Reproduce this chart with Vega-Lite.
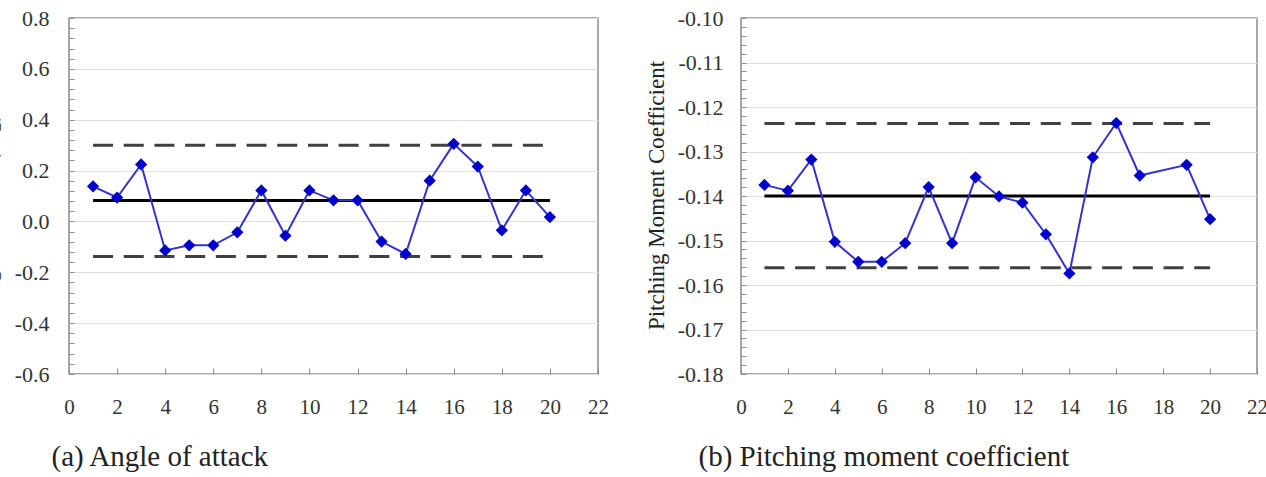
{
  "$schema": "https://vega.github.io/schema/vega-lite/v6.json",
  "background": "white",
  "padding": {"left": -24, "top": 6, "right": 0, "bottom": 0},
  "bounds": "flush",
  "spacing": 143,
  "config": {
    "font": "Liberation Serif",
    "view": {"stroke": "#8c8c8c", "strokeWidth": 1.5},
    "axis": {
      "domain": false,
      "labelFont": "Liberation Serif",
      "labelFontSize": 21,
      "labelColor": "#333333",
      "titleFont": "Liberation Serif",
      "titleFontWeight": "normal",
      "titleColor": "#222222",
      "tickColor": "#8c8c8c",
      "tickWidth": 1,
      "gridColor": "#dddddd",
      "gridWidth": 1
    }
  },
  "datasets": {
    "aoa": [
      {"x": 1, "y": 0.138}, {"x": 2, "y": 0.094}, {"x": 3, "y": 0.224}, {"x": 4, "y": -0.114},
      {"x": 5, "y": -0.094}, {"x": 6, "y": -0.094}, {"x": 7, "y": -0.043}, {"x": 8, "y": 0.122},
      {"x": 9, "y": -0.056}, {"x": 10, "y": 0.122}, {"x": 11, "y": 0.083}, {"x": 12, "y": 0.083},
      {"x": 13, "y": -0.079}, {"x": 14, "y": -0.128}, {"x": 15, "y": 0.160}, {"x": 16, "y": 0.305},
      {"x": 17, "y": 0.216}, {"x": 18, "y": -0.035}, {"x": 19, "y": 0.122}, {"x": 20, "y": 0.017}
    ],
    "aoaLimits": [
      {"x": 1, "x2": 20, "y": 0.300},
      {"x": 1, "x2": 20, "y": -0.138}
    ],
    "aoaCenter": [
      {"x": 1, "x2": 20, "y": 0.082}
    ],
    "cm": [
      {"x": 1, "y": -0.1375}, {"x": 2, "y": -0.1388}, {"x": 3, "y": -0.1318}, {"x": 4, "y": -0.1503},
      {"x": 5, "y": -0.1548}, {"x": 6, "y": -0.1548}, {"x": 7, "y": -0.1506}, {"x": 8, "y": -0.1380},
      {"x": 9, "y": -0.1506}, {"x": 10, "y": -0.1358}, {"x": 11, "y": -0.1401}, {"x": 12, "y": -0.1415},
      {"x": 13, "y": -0.1486}, {"x": 14, "y": -0.1574}, {"x": 15, "y": -0.1313}, {"x": 16, "y": -0.1236},
      {"x": 17, "y": -0.1354}, {"x": 19, "y": -0.1330}, {"x": 20, "y": -0.1452}
    ],
    "cmLimits": [
      {"x": 1, "x2": 20, "y": -0.1237},
      {"x": 1, "x2": 20, "y": -0.1561}
    ],
    "cmCenter": [
      {"x": 1, "x2": 20, "y": -0.1400}
    ]
  },
  "hconcat": [
    {
      "width": 529,
      "height": 356,
      "encoding": {
        "x": {
          "field": "x", "type": "quantitative",
          "scale": {"domain": [0, 22], "nice": false, "zero": false},
          "axis": {
            "values": [0, 2, 4, 6, 8, 10, 12, 14, 16, 18, 20, 22],
            "grid": false,
            "tickSize": -6,
            "labelPadding": 28,
            "labelFlush": false,
            "labelFont": "Liberation Serif",
            "title": "(a) Angle of attack",
            "titleFontSize": 29,
            "titleX": -18,
            "titleY": 91,
            "titleAlign": "left",
            "titleAnchor": "start",
            "titleBaseline": "alphabetic"
          }
        },
        "y": {
          "field": "y", "type": "quantitative",
          "scale": {"domain": [-0.6, 0.8], "nice": false, "zero": false},
          "axis": {
            "values": [-0.6, -0.56, -0.52, -0.48, -0.44, -0.4, -0.36, -0.32, -0.28, -0.24, -0.2, -0.16, -0.12, -0.08, -0.04, 0, 0.04, 0.08, 0.12, 0.16, 0.2, 0.24, 0.28, 0.32, 0.36, 0.4, 0.44, 0.48, 0.52, 0.56, 0.6, 0.64, 0.68, 0.72, 0.76, 0.8],
            "labelExpr": "abs(datum.value*5 - round(datum.value*5)) < 0.000001 ? replace(format(datum.value, '.1f'), '\u2212', '-') : ''",
            "gridOpacity": {"condition": {"test": "abs(datum.value*5 - round(datum.value*5)) < 0.000001", "value": 1}, "value": 0},
            "tickSize": -5,
            "labelPadding": 25,
            "labelFontSize": 22,
            "labelFlush": false,
            "labelFont": "Liberation Serif",
            "title": "Angle of attack (deg)",
            "titleFontSize": 23,
            "titleX": -74,
            "titleY": 193,
            "titleAngle": 270,
            "titleAlign": "center",
            "titleBaseline": "alphabetic"
          }
        }
      },
      "layer": [
        {
          "data": {"name": "aoaLimits"},
          "mark": {"type": "rule", "stroke": "#404040", "strokeWidth": 3, "strokeDash": [20, 10.7]},
          "encoding": {"x2": {"field": "x2"}}
        },
        {
          "data": {"name": "aoaCenter"},
          "mark": {"type": "rule", "stroke": "#000000", "strokeWidth": 3},
          "encoding": {"x2": {"field": "x2"}}
        },
        {
          "data": {"name": "aoa"},
          "mark": {"type": "line", "stroke": "#3333cc", "strokeWidth": 2},
          "encoding": {}
        },
        {
          "data": {"name": "aoa"},
          "mark": {"type": "point", "shape": "diamond", "filled": true, "fill": "#0000cc", "opacity": 1, "size": 150},
          "encoding": {}
        }
      ]
    },
    {
      "width": 516,
      "height": 356,
      "encoding": {
        "x": {
          "field": "x", "type": "quantitative",
          "scale": {"domain": [0, 22], "nice": false, "zero": false},
          "axis": {
            "values": [0, 2, 4, 6, 8, 10, 12, 14, 16, 18, 20, 22],
            "grid": false,
            "tickSize": -6,
            "labelPadding": 28,
            "labelFlush": false,
            "labelFont": "Liberation Serif",
            "title": "(b) Pitching moment coefficient",
            "titleFontSize": 29,
            "titleX": -43,
            "titleY": 91,
            "titleAlign": "left",
            "titleAnchor": "start",
            "titleBaseline": "alphabetic"
          }
        },
        "y": {
          "field": "y", "type": "quantitative",
          "scale": {"domain": [-0.18, -0.10], "nice": false, "zero": false},
          "axis": {
            "values": [-0.18, -0.178, -0.176, -0.174, -0.172, -0.17, -0.168, -0.166, -0.164, -0.162, -0.16, -0.158, -0.156, -0.154, -0.152, -0.15, -0.148, -0.146, -0.144, -0.142, -0.14, -0.138, -0.136, -0.134, -0.132, -0.13, -0.128, -0.126, -0.124, -0.122, -0.12, -0.118, -0.116, -0.114, -0.112, -0.11, -0.108, -0.106, -0.104, -0.102, -0.1],
            "labelExpr": "abs(datum.value*100 - round(datum.value*100)) < 0.000001 ? replace(format(datum.value, '.2f'), '\u2212', '-') : ''",
            "gridOpacity": {"condition": {"test": "abs(datum.value*100 - round(datum.value*100)) < 0.000001", "value": 1}, "value": 0},
            "tickSize": -5,
            "labelPadding": 23,
            "labelFontSize": 22,
            "labelFlush": false,
            "labelFont": "Liberation Serif",
            "title": "Pitching Moment Coefficient",
            "titleFontSize": 23,
            "titleX": -78,
            "titleY": 177,
            "titleAngle": 270,
            "titleAlign": "center",
            "titleBaseline": "alphabetic"
          }
        }
      },
      "layer": [
        {
          "data": {"name": "cmLimits"},
          "mark": {"type": "rule", "stroke": "#404040", "strokeWidth": 3, "strokeDash": [20, 10.7]},
          "encoding": {"x2": {"field": "x2"}}
        },
        {
          "data": {"name": "cmCenter"},
          "mark": {"type": "rule", "stroke": "#000000", "strokeWidth": 3},
          "encoding": {"x2": {"field": "x2"}}
        },
        {
          "data": {"name": "cm"},
          "mark": {"type": "line", "stroke": "#3333cc", "strokeWidth": 2},
          "encoding": {}
        },
        {
          "data": {"name": "cm"},
          "mark": {"type": "point", "shape": "diamond", "filled": true, "fill": "#0000cc", "opacity": 1, "size": 150},
          "encoding": {}
        }
      ]
    }
  ]
}
